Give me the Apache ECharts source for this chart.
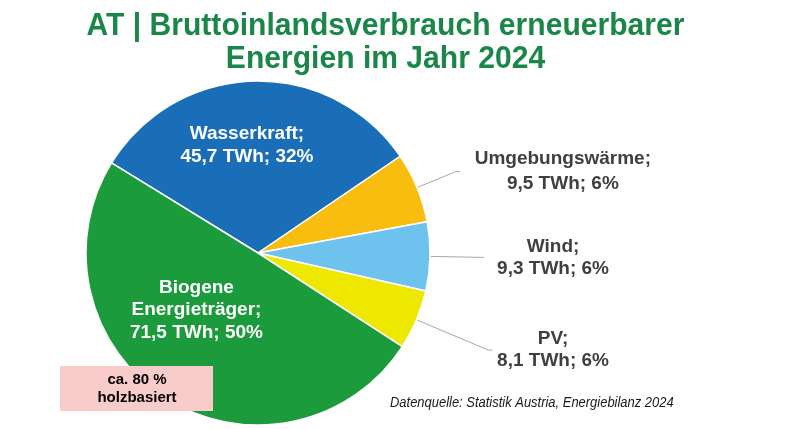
<!DOCTYPE html>
<html><head><meta charset="utf-8">
<script src="https://cdn.jsdelivr.net/npm/echarts@6/dist/echarts.min.js"></script>
<style>html,body{margin:0;padding:0;background:#fff}#c{width:800px;height:429px}</style>
</head><body><div id="c"></div>
<script>
const categories = ['Wasserkraft', 'Umgebungswärme', 'Wind', 'PV', 'Biogene Energieträger'];
const labelNames = ['Wasserkraft;', 'Umgebungswärme;', 'Wind;', 'PV;', 'Biogene\nEnergieträger;'];
const valuesTWh = [45.7, 9.5, 9.3, 8.1, 71.5];
const percentLabels = ['32%', '6%', '6%', '6%', '50%'];
const colors = ['#1a6db7', '#f8bd0e', '#6dc3ed', '#eee800', '#1b9b3c'];
const titleLines = ['AT | Bruttoinlandsverbrauch erneuerbarer', 'Energien im Jahr 2024'];
const sourceText = 'Datenquelle: Statistik Austria, Energiebilanz 2024';
const noteText = 'ca. 80 %\nholzbasiert';

const FONT = 'Liberation Sans, Arial, sans-serif';
const fmt = v => v.toFixed(1).replace('.', ',');

// label styling per slice (style only)
const labelStyle = {
  0: {inside: true, offset: [-9, -19]},
  4: {inside: true, offset: [-14, -18]},
  1: {inside: false, edge: 149, len: 42, lh: 25},
  2: {inside: false, edge: 191, len: 50, lh: 22},
  3: {inside: false, edge: 191, len: 78, lh: 22}
};

const data = categories.map((c, i) => {
  const s = labelStyle[i];
  const lines = (labelNames[i] + '\n' + fmt(valuesTWh[i]) + ' TWh; ' + percentLabels[i]).split('\n');
  const item = {name: c, value: valuesTWh[i], itemStyle: {color: colors[i]}};
  if (s.inside) {
    item.label = {
      position: 'inside', color: '#fff', fontSize: 19, fontWeight: 'bold',
      fontFamily: FONT, lineHeight: 22.5, offset: s.offset, align: 'center',
      formatter: lines.join('\n')
    };
    item.labelLine = {show: false};
  } else {
    item.label = {
      position: 'outside', alignTo: 'edge', edgeDistance: s.edge, distanceToLabelLine: 5,
      formatter: lines.map(l => '{a|' + l + '}').join('\n'),
      rich: {a: {align: 'center', color: '#3f3f3f', fontSize: 19, fontWeight: 'bold',
        fontFamily: FONT, lineHeight: s.lh}}
    };
    item.labelLine = {show: true, length: s.len, length2: 4,
      lineStyle: {color: '#a8a8a8', width: 1}};
  }
  return item;
});

const chart = echarts.init(document.getElementById('c'));
chart.setOption({
  animation: false,
  graphic: [{
    type: 'text', x: 385.5, y: 26, scaleX: 0.94,
    style: {text: titleLines[0], align: 'center', verticalAlign: 'middle',
      fill: '#1a8749', font: 'bold 32px ' + FONT}
  }, {
    type: 'text', x: 385.5, y: 59.5, scaleX: 0.94,
    style: {text: titleLines[1], align: 'center', verticalAlign: 'middle',
      fill: '#1a8749', font: 'bold 32px ' + FONT}
  }, {
    type: 'rect', shape: {x: 60, y: 366, width: 153, height: 45},
    style: {fill: '#f7cccb'}, z: 100
  }, {
    type: 'text', x: 137, y: 389, z: 101,
    style: {text: noteText, align: 'center', verticalAlign: 'middle',
      fill: '#000', font: 'bold 15px ' + FONT, lineHeight: 18}
  }, {
    type: 'text', x: 390, y: 403.5, scaleX: 0.925,
    style: {text: sourceText, align: 'left', verticalAlign: 'middle',
      fill: '#1a1a1a', font: 'italic 14px ' + FONT}
  }],
  series: [{
    type: 'pie',
    center: [258, 253], radius: 172,
    startAngle: 148.4, clockwise: true,
    avoidLabelOverlap: false,
    itemStyle: {borderColor: '#fff', borderWidth: 1.5},
    label: {show: true},
    emphasis: {disabled: true},
    data: data
  }]
});
</script></body></html>
